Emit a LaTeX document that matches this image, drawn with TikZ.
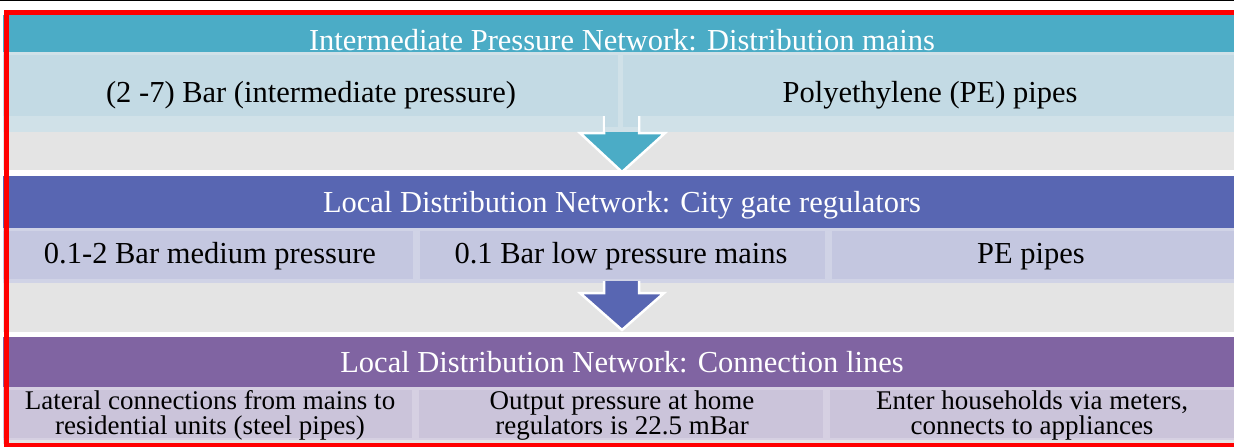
\documentclass[tikz,border=0pt]{standalone}
\usepackage{fontspec}
\setmainfont{Liberation Serif}
\definecolor{tealA}{HTML}{4BACC6}
\definecolor{tealBox}{HTML}{C3DAE4}
\definecolor{tealStrip}{HTML}{D0E1E8}
\definecolor{blueA}{HTML}{5866B2}
\definecolor{blueBox}{HTML}{C4C7E0}
\definecolor{blueEdge}{HTML}{D0D3E6}
\definecolor{purpA}{HTML}{8064A2}
\definecolor{purpBox}{HTML}{CBC4DA}
\definecolor{purpEdge}{HTML}{D6D0E2}
\definecolor{bgGray}{HTML}{E4E4E4}
\tikzset{
  titletext/.style={anchor=base, text=white, inner sep=0pt, font=\fontsize{30.5}{36}\selectfont},
  rowtext/.style={anchor=base, text=black, inner sep=0pt, font=\fontsize{30.5}{36}\selectfont},
  smalltext/.style={anchor=center, text=black, inner sep=0pt, align=center, font=\fontsize{27}{25}\selectfont},
  blockarrow/.style={draw=white, line width=2.5pt, line join=miter}
}
\begin{document}
\begin{tikzpicture}[x=1pt,y=-1pt]
\useasboundingbox (0,0) rectangle (1234,447);
\clip (0,0) rectangle (1234,447);
\fill[white] (0,0) rectangle (1234,447);
\fill[bgGray] (3,15) rectangle (1234,444);
\draw[black, line width=1.2pt] (0,0.6) -- (1234,0.6);

% ---- level 1 ----
\fill[tealA] (3,15) rectangle (1234,52);
\fill[tealStrip] (3,52) rectangle (1234,132);
\fill[tealBox] (3,55) rectangle (618,116);
\fill[tealBox] (623,55) rectangle (1234,116);
\fill[white] (3,170) rectangle (1234,176);
\draw[blockarrow, fill=tealA] (604,116) -- (604,133) -- (580,133) -- (622,172) -- (665,133) -- (639,133) -- (639,116);
\fill[tealStrip] (605.3,114) rectangle (637.7,132);
\fill[tealBox] (605.3,114) rectangle (618,127);
\fill[tealBox] (623,114) rectangle (637.7,127);

\node[titletext] (t1) at (622,50) {Intermediate Pressure Network: Distribution mains};
\node[rowtext] (a1) at (311,102) {(2 -7) Bar (intermediate pressure)};
\node[rowtext] (a2) at (930,102) {Polyethylene (PE) pipes};

% ---- level 2 ----
\fill[blueA] (3,176) rectangle (1234,228);
\fill[blueEdge] (3,228) rectangle (1234,283);
\fill[blueBox] (3,231) rectangle (413,279);
\fill[blueBox] (420,231) rectangle (825,279);
\fill[blueBox] (832,231) rectangle (1234,279);
\fill[white] (3,332) rectangle (1234,337);
\draw[blockarrow, fill=blueA] (604,281) -- (604,293) -- (580,293) -- (622,330) -- (664,293) -- (639,293) -- (639,281);

\node[titletext] (t2) at (622,212) {Local Distribution Network: City gate regulators};
\node[rowtext] (b1) at (210,263) {0.1-2 Bar medium pressure};
\node[rowtext] (b2) at (621,263) {0.1 Bar low pressure mains};
\node[rowtext] (b3) at (1031,263) {PE pipes};

% ---- level 3 ----
\fill[purpA] (3,337) rectangle (1234,387);
\fill[purpEdge] (3,387) rectangle (1234,440);
\fill[purpBox] (3,390) rectangle (412,438);
\fill[purpBox] (419,390) rectangle (823,438);
\fill[purpBox] (830,390) rectangle (1234,438);

\node[titletext] (t3) at (622,372) {Local Distribution Network: Connection lines};
\node[smalltext] (c1) at (210,415.5) {Lateral connections from mains to\\residential units (steel pipes)};
\node[smalltext] (c2) at (622,415.5) {Output pressure at home\\regulators is 22.5 mBar};
\node[smalltext] (c3) at (1032,415.5) {Enter households via meters,\\connects to appliances};

% ---- red frame ----
\draw[red, line width=5pt] (6.5,12.5) rectangle (1250,445.5);
\end{tikzpicture}
\end{document}
